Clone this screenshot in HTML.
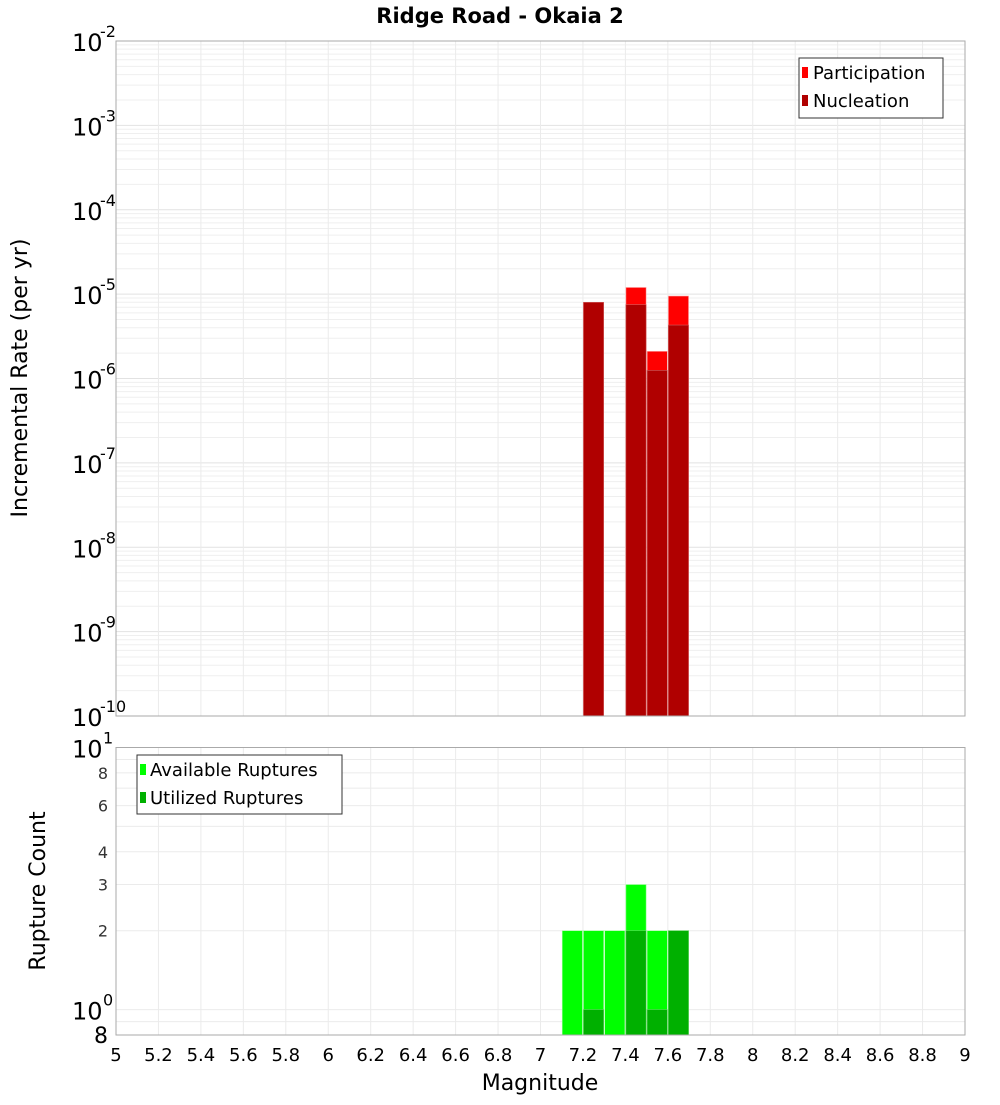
<!DOCTYPE html>
<html><head><meta charset="utf-8"><style>
body{margin:0;background:#fff;font-family:"Liberation Sans","DejaVu Sans",sans-serif}
svg text{font-family:"DejaVu Sans","Liberation Sans",sans-serif}
</style></head><body>
<svg id="c" width="1000" height="1100" xmlns="http://www.w3.org/2000/svg">
<text x="500" y="23" text-anchor="middle" font-size="21" font-weight="bold">Ridge Road - Okaia 2</text>
<text transform="translate(27,378) rotate(-90)" text-anchor="middle" font-size="22">Incremental Rate (per yr)</text>
<text transform="translate(45,891) rotate(-90)" text-anchor="middle" font-size="22">Rupture Count</text>
<text x="540" y="1090" text-anchor="middle" font-size="22">Magnitude</text>
<g id="g"></g>
</svg>
<script>
const binCenters=[7.15,7.25,7.35,7.45,7.55,7.65];
const participation=[0,8e-6,0,1.2e-5,2.1e-6,9.5e-6];
const nucleation=[0,8e-6,0,7.5e-6,1.25e-6,4.3e-6];
const available=[2,2,2,3,2,2];
const utilized=[0,1,0,2,1,2];
const xTicks=[5,5.2,5.4,5.6,5.8,6,6.2,6.4,6.6,6.8,7,7.2,7.4,7.6,7.8,8,8.2,8.4,8.6,8.8,9];
const topExps=[-10,-9,-8,-7,-6,-5,-4,-3,-2];
const botMinor=[2,3,4,6,8];

const NS="http://www.w3.org/2000/svg";
const g=document.getElementById('g');
function el(t,a,txt){const e=document.createElementNS(NS,t);for(const k in a)e.setAttribute(k,a[k]);if(txt!==undefined)e.textContent=txt;g.appendChild(e);return e;}
const L=116,R=965,T1=41,B1=716,T2=747.5,B2=1035;
const xs=m=>L+(m-5)/4*(R-L);
const y1=v=>T1+(-2-Math.log10(v))/8*(B1-T1);
const lo=Math.log10(0.8);
const y2=v=>B2-(Math.log10(v)-lo)/(1-lo)*(B2-T2);

// grids
for(let e=-10;e<-2;e++)for(let k=1;k<10;k++){const y=y1(k*Math.pow(10,e));
 const l=el('line',{x1:L,x2:R,y1:y,y2:y,stroke:k==1?'#e2e2e2':'#efefef','stroke-width':1});
 }
for(let v=1;v<=10;v++){const y=y2(v);const l=el('line',{x1:L,x2:R,y1:y,y2:y,stroke:'#ebebeb'});
 }
{const l=el('line',{x1:L,x2:R,y1:y2(0.9),y2:y2(0.9),stroke:'#ebebeb'});}
xTicks.forEach(t=>{const x=xs(t);
 let l=el('line',{x1:x,x2:x,y1:T1,y2:B1,stroke:'#ebebeb'});
 l=el('line',{x1:x,x2:x,y1:T2,y2:B2,stroke:'#ebebeb'});
 const tx=el('text',{x:x,y:1061,'text-anchor':'middle','font-size':18},String(t));});

// top bars
const bw=(R-L)/40;
binCenters.forEach((c,i)=>{const x=xs(c)-bw/2+0.5,w=bw-1;
 if(participation[i]>0){const r=el('rect',{x:x,y:y1(participation[i]),width:w,height:B1-y1(participation[i]),fill:'#ff0000',stroke:'#ffb0b0','stroke-width':0.6});}
 if(nucleation[i]>0){const r=el('rect',{x:x,y:y1(nucleation[i]),width:w,height:B1-y1(nucleation[i]),fill:'#b00000',stroke:'#d06060','stroke-width':0.6});}
 if(available[i]>0){const r=el('rect',{x:x,y:y2(available[i]),width:w,height:B2-y2(available[i]),fill:'#00ff00',stroke:'#a0ffa0','stroke-width':0.6});}
 if(utilized[i]>0){const r=el('rect',{x:x,y:y2(utilized[i]),width:w,height:B2-y2(utilized[i]),fill:'#00b000',stroke:'#60d060','stroke-width':0.6});}
});

// frames
let f=el('rect',{x:L,y:T1,width:R-L,height:B1-T1,fill:'none',stroke:'#aaa'});
f=el('rect',{x:L,y:T2,width:R-L,height:B2-T2,fill:'none',stroke:'#aaa'});

// top y labels
topExps.forEach(e=>{const y=y1(Math.pow(10,e));
 const t=el('text',{x:72,y:y+10,'font-size':24},'10');
 const s=el('text',{x:100,y:y-4,'font-size':16},String(e));});
// bottom y labels
[[1,'0'],[10,'1']].forEach(([v,e])=>{const y=y2(v);
 const t=el('text',{x:72,y:y+10,'font-size':24},'10');
 const s=el('text',{x:103,y:y-4,'font-size':16},e);});
botMinor.forEach(v=>{const t=el('text',{x:108,y:y2(v)+6,'font-size':16,'text-anchor':'end',fill:'#333'},String(v));});
{const t=el('text',{x:108,y:B2+8,'font-size':22,'text-anchor':'end'},'8');}

// legends
let lg=el('rect',{x:799,y:58,width:144,height:60,fill:'#fff',stroke:'#333'});
[['#ff0000','Participation',73],['#b00000','Nucleation',101]].forEach(([c,n,y])=>{
 const r=el('rect',{x:802,y:y-6,width:6,height:11,fill:c});
 const t=el('text',{x:813,y:y+6,'font-size':18},n);});
lg=el('rect',{x:137,y:755,width:205,height:59,fill:'#fff',stroke:'#333'});
[['#00ff00','Available Ruptures',770],['#00b000','Utilized Ruptures',798]].forEach(([c,n,y])=>{
 const r=el('rect',{x:140,y:y-6,width:6,height:11,fill:c});
 const t=el('text',{x:150,y:y+6,'font-size':18},n);});
</script>
</body></html>
